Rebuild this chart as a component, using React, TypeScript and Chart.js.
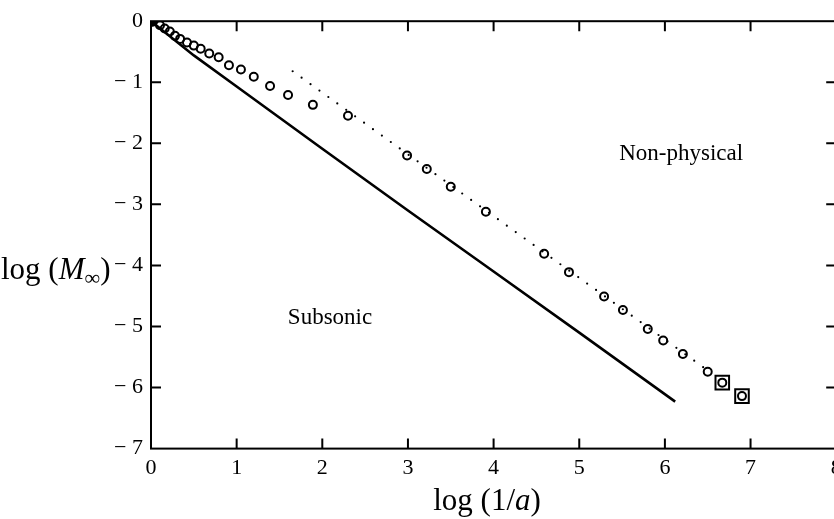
import { useEffect, useRef } from "react";
import { Chart, registerables } from "chart.js";

Chart.register(...registerables);

const SERIF = '"Liberation Serif", "DejaVu Serif", "Times New Roman", serif';

// Computed points: log(1/a) against log(M∞)
const pointX = [
  0.02, 0.105, 0.16, 0.22, 0.28, 0.34, 0.42, 0.5, 0.58, 0.68, 0.79, 0.91, 1.05, 1.2, 1.39, 1.6, 1.89,
  2.3, 2.99, 3.22, 3.5, 3.91, 4.59, 4.88, 5.29, 5.51, 5.8, 5.98, 6.21, 6.5, 6.67, 6.9,
];
const pointY = [
  -0.01, -0.065, -0.12, -0.17, -0.24, -0.29, -0.35, -0.4, -0.45, -0.53, -0.59, -0.72, -0.79, -0.91, -1.06, -1.21, -1.37,
  -1.55, -2.2, -2.42, -2.71, -3.12, -3.81, -4.11, -4.51, -4.73, -5.04, -5.23, -5.45, -5.74, -5.92, -6.14,
];

// Boxed points at the end of the sequence
const boxedX = [6.67, 6.9];
const boxedY = [-5.92, -6.14];

// Sonic boundary (solid curve)
const sonicX = [0, 0.5, 1, 2, 3, 4, 5, 6.12];
const sonicY = [0, -0.56, -1.07, -2.09, -3.1, -4.1, -5.1, -6.23];

// Asymptotic fit (dotted line)
const fitX = [1.654, 6.5];
const fitY = [-0.82, -5.72];

// Axis ticks
const xTickValues = [0, 1, 2, 3, 4, 5, 6, 7, 8];
const yTickValues = [0, -1, -2, -3, -4, -5, -6, -7];

// Region labels
const regionText = ["Non-physical", "Subsonic"];
const regionX = [6.19, 2.09];
const regionY = [-2.17, -4.86];

const CANVAS_W = 852;
const CANVAS_H = 519;

const zip = (xs: number[], ys: number[]) => xs.map((x, i) => ({ x, y: ys[i] }));

const framePlugin = {
  id: "frameAndLabels",
  afterDatasetsDraw(chart: any) {
    const { ctx, chartArea, scales } = chart;
    const xs = scales.x;
    const ys = scales.y;
    const { left, right, top, bottom } = chartArea;
    ctx.save();
    ctx.strokeStyle = "#000";
    ctx.lineWidth = 2;
    ctx.strokeRect(left, top, right - left, bottom - top);

    // inward tick marks on all four sides
    const tl = 10;
    ctx.beginPath();
    xTickValues.forEach((v) => {
      if (v === xTickValues[0] || v === xTickValues[xTickValues.length - 1]) return;
      const px = xs.getPixelForValue(v);
      ctx.moveTo(px, bottom);
      ctx.lineTo(px, bottom - tl);
      ctx.moveTo(px, top);
      ctx.lineTo(px, top + tl);
    });
    yTickValues.forEach((v) => {
      if (v === yTickValues[0] || v === yTickValues[yTickValues.length - 1]) return;
      const py = ys.getPixelForValue(v);
      ctx.moveTo(left, py);
      ctx.lineTo(left + tl, py);
      ctx.moveTo(right, py);
      ctx.lineTo(right - tl, py);
    });
    ctx.stroke();

    // region labels
    ctx.fillStyle = "#000";
    ctx.font = `23px ${SERIF}`;
    ctx.textAlign = "center";
    ctx.textBaseline = "middle";
    regionText.forEach((t, i) => {
      ctx.fillText(t, xs.getPixelForValue(regionX[i]), ys.getPixelForValue(regionY[i]));
    });

    // axis titles
    const big = 31;
    const drawParts = (parts: { t: string; font: string; dy?: number }[], x: number, y: number, align: "left" | "center") => {
      ctx.textAlign = "left";
      ctx.textBaseline = "alphabetic";
      let total = 0;
      parts.forEach((p) => {
        ctx.font = p.font;
        total += ctx.measureText(p.t).width;
      });
      let cx = align === "center" ? x - total / 2 : x;
      parts.forEach((p) => {
        ctx.font = p.font;
        ctx.fillText(p.t, cx, y + (p.dy || 0));
        cx += ctx.measureText(p.t).width;
      });
    };
    drawParts(
      [
        { t: "log (", font: `${big}px ${SERIF}` },
        { t: "M", font: `italic ${big}px ${SERIF}` },
        { t: "∞", font: `${Math.round(big * 0.72)}px ${SERIF}`, dy: 6 },
        { t: ")", font: `${big}px ${SERIF}` },
      ],
      1,
      279,
      "left"
    );
    drawParts(
      [
        { t: "log (1/", font: `${big}px ${SERIF}` },
        { t: "a", font: `italic ${big}px ${SERIF}` },
        { t: ")", font: `${big}px ${SERIF}` },
      ],
      487,
      510,
      "center"
    );
    ctx.restore();
  },
};

export default function App() {
  const canvasRef = useRef<HTMLCanvasElement | null>(null);

  useEffect(() => {
    const canvas = canvasRef.current;
    if (!canvas) return;
    const chart = new Chart(canvas, {
      type: "scatter",
      data: {
        datasets: [
          {
            label: "sonic",
            type: "line",
            data: zip(sonicX, sonicY),
            borderColor: "#000",
            borderWidth: 2.6,
            pointRadius: 0,
            fill: false,
            tension: 0,
          },
          {
            label: "fit",
            type: "line",
            data: zip(fitX, fitY),
            borderColor: "#000",
            borderWidth: 2.2,
            borderDash: [0, 11],
            borderCapStyle: "round",
            pointRadius: 0,
            fill: false,
          },
          {
            label: "points",
            data: zip(pointX, pointY),
            pointStyle: "circle",
            pointRadius: 4,
            pointBorderWidth: 2,
            borderColor: "#000",
            pointBorderColor: "#000",
            pointBackgroundColor: pointX.map((_, i) => (i === 0 ? "#000" : "rgba(255,255,255,0)")),
            showLine: false,
          },
          {
            label: "boxed",
            data: zip(boxedX, boxedY),
            pointStyle: "rect",
            pointRadius: 9.6,
            pointBorderWidth: 2,
            pointBorderColor: "#000",
            pointBackgroundColor: "rgba(255,255,255,0)",
            showLine: false,
          },
        ],
      },
      options: {
        responsive: false,
        animation: false,
        devicePixelRatio: 1,
        layout: { padding: { left: 0, top: 16, right: CANVAS_W - 836.2, bottom: 0 } },
        plugins: { legend: { display: false }, tooltip: { enabled: false } },
        scales: {
          x: {
            type: "linear",
            min: 0,
            max: 8,
            grid: { display: false, drawTicks: false },
            border: { display: false },
            afterFit: (s: any) => {
              s.height = CANVAS_H - 448.6;
            },
            afterBuildTicks: (s: any) => {
              s.ticks = xTickValues.map((v) => ({ value: v }));
            },
            ticks: {
              padding: 6,
              color: "#000",
              font: { family: SERIF, size: 22 },
              maxRotation: 0,
              autoSkip: false,
              callback: (v: any) => String(v),
            },
          },
          y: {
            type: "linear",
            min: -7,
            max: 0,
            grid: { display: false, drawTicks: false },
            border: { display: false },
            afterFit: (s: any) => {
              s.width = 151;
            },
            afterBuildTicks: (s: any) => {
              s.ticks = yTickValues.map((v) => ({ value: v }));
            },
            ticks: {
              padding: 8,
              color: "#000",
              font: { family: SERIF, size: 22 },
              autoSkip: false,
              callback: (v: any) => (Number(v) === 0 ? "0" : "− " + Math.abs(Number(v))),
            },
          },
        },
      },
      plugins: [framePlugin],
    });
    return () => chart.destroy();
  }, []);

  return (
    <div
      style={{
        position: "fixed",
        left: 0,
        top: 0,
        width: 834,
        height: 519,
        overflow: "hidden",
        background: "#fff",
      }}
    >
      <canvas ref={canvasRef} width={CANVAS_W} height={CANVAS_H} style={{ display: "block" }} />
    </div>
  );
}
